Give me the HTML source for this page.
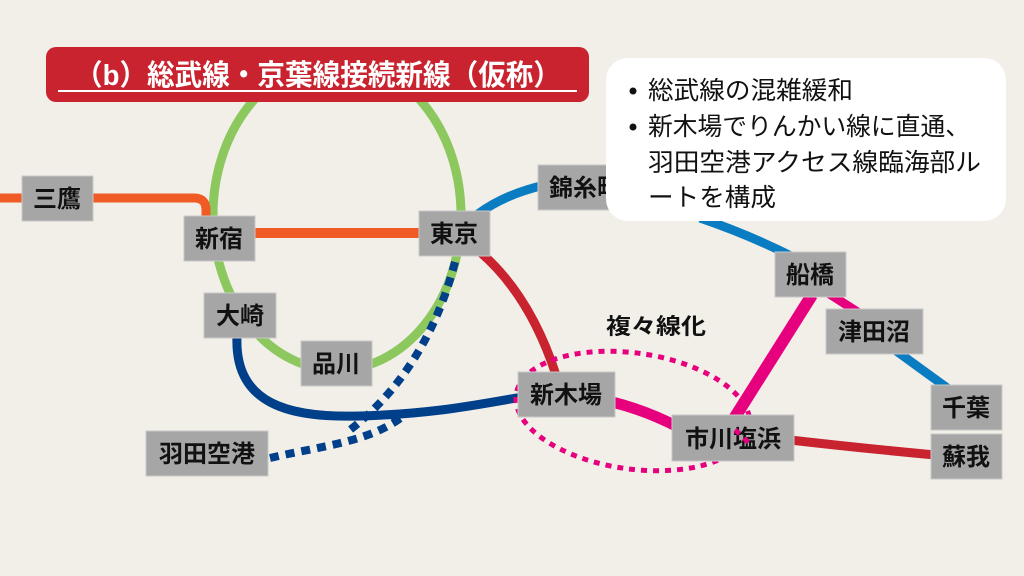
<!DOCTYPE html>
<html><head><meta charset="utf-8"><style>
html,body{margin:0;padding:0;background:#f2efe9;}
svg{display:block}
text{font-family:"Liberation Sans","Noto Sans CJK JP",sans-serif;}
</style></head><body>
<svg width="1024" height="576" viewBox="0 0 1024 576" xmlns="http://www.w3.org/2000/svg">
<rect width="1024" height="576" fill="#f2efe9"/>
<ellipse cx="337" cy="215" rx="124" ry="155" fill="none" stroke="#8cc85e" stroke-width="9"/>
<path d="M0,198 L194,198 Q206,198 206,210 L206,220" fill="none" stroke="#f05a24" stroke-width="9"/>
<line x1="250" y1="233" x2="425" y2="233" stroke="#f05a24" stroke-width="10"/>
<path d="M478,214 Q505,194 545,185" fill="none" stroke="#0a7cc1" stroke-width="9"/>
<path d="M700,218 Q750,235 795,258" fill="none" stroke="#0a7cc1" stroke-width="9"/>
<line x1="895" y1="350" x2="950" y2="390" stroke="#0a7cc1" stroke-width="9"/>
<path d="M480,252 Q530,295 556,375" fill="none" stroke="#c8232e" stroke-width="9"/>
<path d="M790,440 Q860,448 935,455" fill="none" stroke="#c8232e" stroke-width="9"/>
<line x1="828" y1="293" x2="870" y2="320" stroke="#e6007e" stroke-width="9"/>
<line x1="812" y1="295" x2="730" y2="425" stroke="#e6007e" stroke-width="12"/>
<path d="M612,402 Q645,410 680,428" fill="none" stroke="#e6007e" stroke-width="11"/>
<path d="M237,336 C234,405 290,418 360,416 C430,414 470,406 522,397" fill="none" stroke="#003f8a" stroke-width="9"/>
<path d="M455,262 C435,340 395,395 350,430" fill="none" stroke="#003f8a" stroke-width="8" stroke-dasharray="9 7"/>
<path d="M270,458 C320,446 375,442 408,412" fill="none" stroke="#003f8a" stroke-width="8" stroke-dasharray="9 7"/>
<ellipse cx="633" cy="411" rx="118" ry="58" transform="rotate(8 633 411)" fill="none" stroke="#e6007e" stroke-width="5" stroke-dasharray="6 6"/>
<text x="656" y="334" font-size="22" font-weight="bold" fill="#111" text-anchor="middle" textLength="100" lengthAdjust="spacingAndGlyphs">複々線化</text>
<g fill="#a6a6a6" stroke="#c8c8c8" stroke-width="1">
<rect x="22" y="176" width="71" height="45"/>
<rect x="184" y="216" width="71" height="45"/>
<rect x="419" y="211" width="71" height="45"/>
<rect x="204" y="293" width="72" height="45"/>
<rect x="301" y="341" width="71" height="45"/>
<rect x="518" y="372" width="97" height="45"/>
<rect x="146" y="431" width="122" height="45"/>
<rect x="538" y="165" width="80" height="45"/>
<rect x="775" y="252" width="71" height="45"/>
<rect x="826" y="309" width="97" height="45"/>
<rect x="931" y="385" width="71" height="45"/>
<rect x="931" y="434" width="71" height="45"/>
<rect x="672" y="415" width="122" height="46"/>
</g>
<g font-size="24" font-weight="bold" fill="#111" text-anchor="middle">
<text x="57" y="207">三鷹</text>
<text x="219" y="247">新宿</text>
<text x="454" y="242">東京</text>
<text x="240" y="324">大崎</text>
<text x="336" y="372">品川</text>
<text x="566" y="403">新木場</text>
<text x="207" y="462">羽田空港</text>
<text x="585" y="196">錦糸町</text>
<text x="810" y="283">船橋</text>
<text x="874" y="340">津田沼</text>
<text x="966" y="416">千葉</text>
<text x="966" y="465">蘇我</text>
<text x="733" y="447">市川塩浜</text>
</g>
<path d="M735,430 A118 58 8 0 1 750,445" fill="none" stroke="#e6007e" stroke-width="5" stroke-dasharray="6 6"/>
<rect x="606" y="58" width="400" height="163" rx="22" fill="#ffffff"/>
<g font-size="25" fill="#111">
<circle cx="633" cy="91" r="3.5" fill="#111"/>
<circle cx="633" cy="127" r="3.5" fill="#111"/>
<text x="648" y="99" textLength="205" lengthAdjust="spacingAndGlyphs">総武線の混雑緩和</text>
<text x="648" y="135" textLength="322" lengthAdjust="spacingAndGlyphs">新木場でりんかい線に直通、</text>
<text x="648" y="171" textLength="333" lengthAdjust="spacingAndGlyphs">羽田空港アクセス線臨海部ル</text>
<text x="648" y="206" textLength="128" lengthAdjust="spacingAndGlyphs">ートを構成</text>
</g>
<rect x="46" y="47" width="543" height="55" rx="10" fill="#c8232e"/>
<text x="75" y="85" font-size="29" font-weight="bold" fill="#fff" textLength="486" lengthAdjust="spacingAndGlyphs">（b）総武線・京葉線接続新線（仮称）</text>
<line x1="58" y1="91" x2="577" y2="91" stroke="#fff" stroke-width="2"/>
</svg>
</body></html>
